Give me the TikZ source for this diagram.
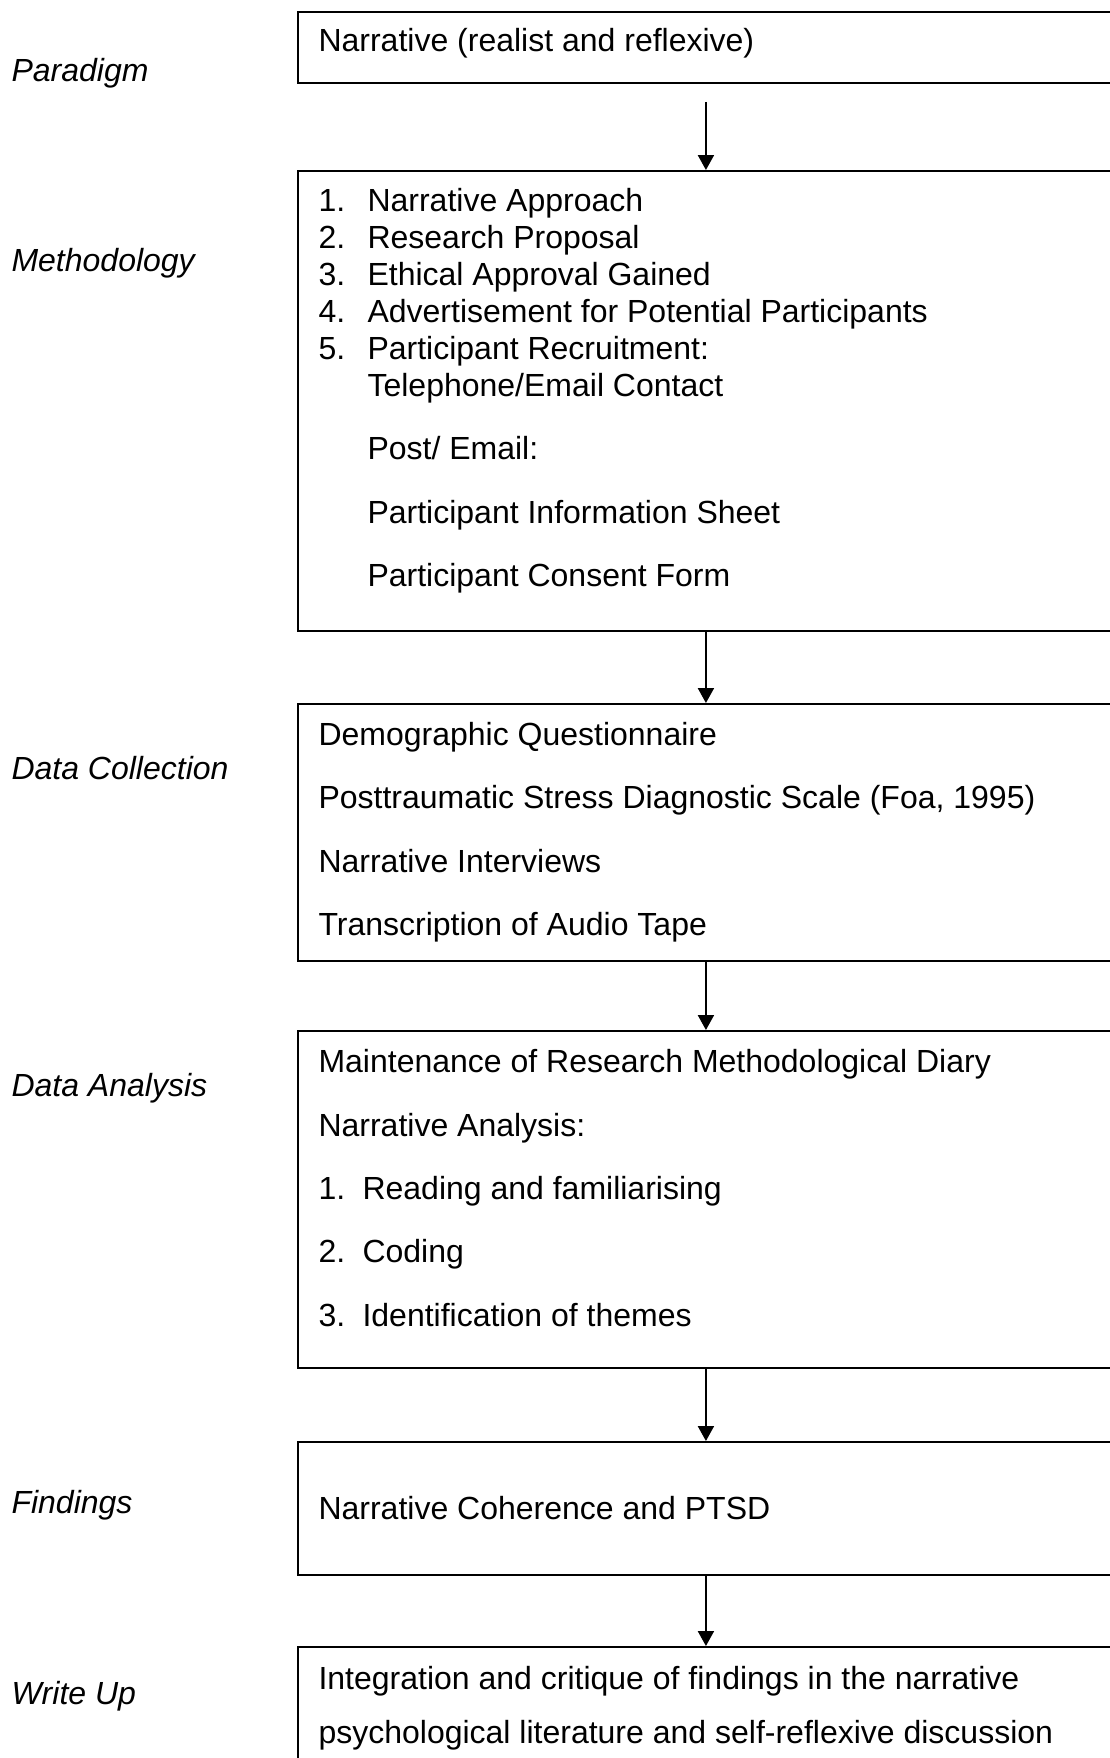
\documentclass[12pt,tikz,border=0pt]{standalone}
\usepackage{fontspec}
\setmainfont{Liberation Sans}
\usetikzlibrary{arrows.meta}

\begin{document}
\begin{tikzpicture}[x=0.375pt,y=-0.375pt]
		\useasboundingbox (0,0) rectangle (1110,1758);
		\clip (0,0) rectangle (1110,1758);
		\tikzset{
			stage/.style={draw,line width=0.7pt,anchor=north west,minimum width=306pt,inner sep=0pt},
			phase/.style={anchor=base west,inner sep=0pt,font=\itshape},
			entry/.style={anchor=base west,inner sep=0pt},
			flow/.style={line width=0.7pt,-{Triangle[length=5.6pt,width=6pt]}}
		}
		% box corners
		\path (297,11) coordinate (paradigm_tl);
		\path (297,170) coordinate (method_tl);
		\path (297,703) coordinate (collect_tl);
		\path (297,1030) coordinate (analysis_tl);
		\path (297,1441) coordinate (findings_tl);
		\path (297,1646) coordinate (writeup_tl);

		\draw (paradigm_tl) node(paradigm_box) [stage,minimum height=26.6pt] {};
		\draw (method_tl) node(method_box) [stage,minimum height=172.5pt] {};
		\draw (collect_tl) node(collect_box) [stage,minimum height=96.4pt] {};
		\draw (analysis_tl) node(analysis_box) [stage,minimum height=126.4pt] {};
		\draw (findings_tl) node(findings_box) [stage,minimum height=49.9pt] {};
		\draw (writeup_tl) node(writeup_box) [stage,minimum height=75pt] {};

		\path (paradigm_box.south) +(0,18) coordinate (paradigm_out);
		\draw[flow] (paradigm_out) -- (method_box);
		\draw[flow] (method_box) -- (collect_box);
		\draw[flow] (collect_box) -- (analysis_box);
		\draw[flow] (analysis_box) -- (findings_box);
		\draw[flow] (findings_box) -- (writeup_box);

		% phases
		\node (paradigm) [phase] at (11,81) {Paradigm};
		\node (method) [phase] at (11,271) {Methodology};
		\node (collect) [phase] at (11,779) {Data Collection};
		\node (analysis) [phase] at (11,1096) {Data Analysis};
		\node (findings) [phase] at (11,1513) {Findings};
		\node (writeup) [phase] at (11,1704) {Write Up};

		% paradigm
		\node (narr) [entry] at (318,51) {Narrative (realist and reflexive)};

		% methodology
		\node (m1) [entry] at (318,211) {1.};
		\node (m1t) [entry] at (367,211) {Narrative Approach};
		\node (m2) [entry] at (318,248) {2.};
		\node (m2t) [entry] at (367,248) {Research Proposal};
		\node (m3) [entry] at (318,285) {3.};
		\node (m3t) [entry] at (367,285) {Ethical Approval Gained};
		\node (m4) [entry] at (318,322) {4.};
		\node (m4t) [entry] at (367,322) {Advertisement for Potential Participants};
		\node (m5) [entry] at (318,359) {5.};
		\node (m5t) [entry] at (367,359) {Participant Recruitment:};
		\node (phone) [entry] at (367,396) {Telephone/Email Contact};
		\node (post) [entry] at (367,459) {Post/ Email:};
		\node (infosheet) [entry] at (367,523) {Participant Information Sheet};
		\node (consent) [entry] at (367,586) {Participant Consent Form};

		% data collection
		\node (demog) [entry] at (318,745) {Demographic Questionnaire};
		\node (pds) [entry] at (318,808) {Posttraumatic Stress Diagnostic Scale (Foa, 1995)};
		\node (interv) [entry] at (318,872) {Narrative Interviews};
		\node (transc) [entry] at (318,935) {Transcription of Audio Tape};

		% data analysis
		\node (diary) [entry] at (318,1072) {Maintenance of Research Methodological Diary};
		\node (narran) [entry] at (318,1136) {Narrative Analysis:};
		\node (a1) [entry] at (318,1199) {1.};
		\node (a1t) [entry] at (362,1199) {Reading and familiarising};
		\node (a2) [entry] at (318,1262) {2.};
		\node (a2t) [entry] at (362,1262) {Coding};
		\node (a3) [entry] at (318,1326) {3.};
		\node (a3t) [entry] at (362,1326) {Identification of themes};

		% findings
		\node (coher) [entry] at (318,1519) {Narrative Coherence and PTSD};

		% write up
		\node (integ) [entry] at (318,1689) {Integration and critique of findings in the narrative};
		\node (psylit) [entry] at (318,1743) {psychological literature and self-reflexive discussion};
\end{tikzpicture}
\end{document}
